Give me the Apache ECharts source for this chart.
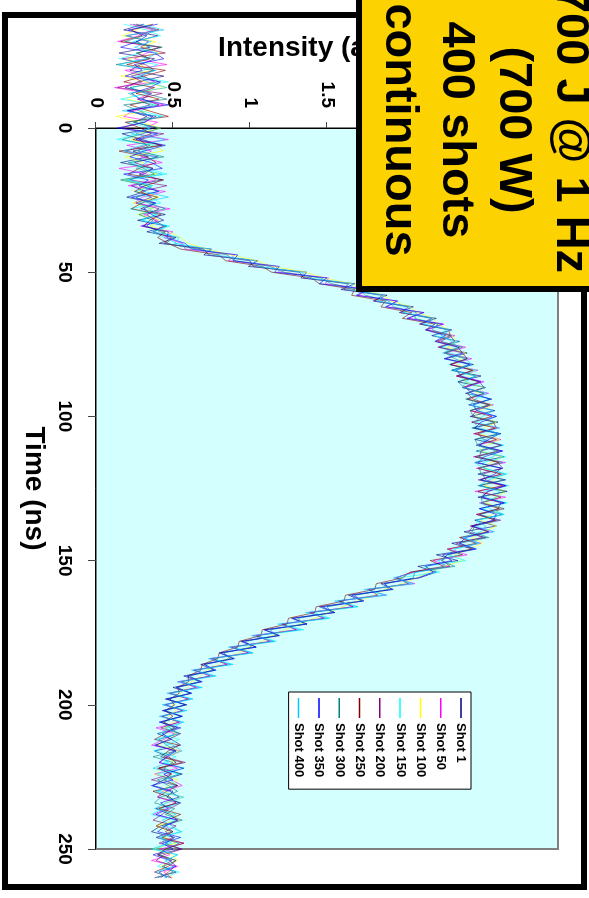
<!DOCTYPE html>
<html><head><meta charset="utf-8">
<script src="https://cdn.jsdelivr.net/npm/echarts@6/dist/echarts.min.js"></script>
<style>
html,body{margin:0;padding:0;background:#fff;}
#wrap{position:relative;width:589px;height:898px;overflow:hidden;background:#fff;}
#chart{position:absolute;left:0;top:0;width:898px;height:589px;transform-origin:0 0;transform:translate(589px,0) rotate(90deg);}
</style></head><body>
<div id="wrap"><div id="chart"></div></div>
<script>
// Time samples (ns)
const times = [-36,-34,-32,-30,-28,-26,-24,-22,-20,-18,-16,-14,-12,-10,-8,-6,-4,-2,0,2,4,6,8,10,12,14,16,18,20,22,24,26,28,30,32,34,36,38,40,42,44,46,48,50,52,54,56,58,60,62,64,66,68,70,72,74,76,78,80,82,84,86,88,90,92,94,96,98,100,102,104,106,108,110,112,114,116,118,120,122,124,126,128,130,132,134,136,138,140,142,144,146,148,150,152,154,156,158,160,162,164,166,168,170,172,174,176,178,180,182,184,186,188,190,192,194,196,198,200,202,204,206,208,210,212,214,216,218,220,222,224,226,228,230,232,234,236,238,240,242,244,246,248,250,252,254,256,258,260];

const seriesNames = ['Shot 1','Shot 50','Shot 100','Shot 150','Shot 200','Shot 250','Shot 300','Shot 350','Shot 400'];
const seriesColors = ['#000080','#FF00FF','#FFFF00','#00FFFF','#800080','#800000','#008080','#0000FF','#00CCFF'];

const timeTickLabels = [0,50,100,150,200,250];
const intensityTickLabels = [0,0.5,1,1.5,2,2.5,3];
const boxLines = ['700 J @ 1 Hz','(700 W)','400 shots','continuous'];

const shot1 = [0.31,0.18,0.40,0.26,0.35,0.15,0.38,0.29,0.22,0.44,0.27,0.19,0.36,0.30,0.41,0.21,0.33,0.25,0.39,0.17,0.30,0.42,0.24,0.34,0.16,0.37,0.28,0.43,0.23,0.32,0.20,0.38,0.29,0.45,0.27,0.46,0.33,0.52,
0.41,0.75,0.70,1.05,0.99,1.37,1.33,1.68,1.59,1.89,1.80,2.06,1.97,2.21,2.10,2.31,
2.18,2.36,2.23,2.41,2.27,2.45,2.31,2.50,2.35,2.53,2.40,2.57,2.42,2.59,2.43,2.61,2.45,2.63,2.46,2.64,2.47,2.65,2.46,2.64,2.48,2.66,2.49,2.67,2.48,2.66,2.49,2.64,2.46,2.60,2.39,2.53,2.31,2.45,2.21,2.35,2.09,2.21,
2.10,1.85,1.93,1.64,1.73,1.45,1.55,1.27,1.37,1.09,1.19,0.94,1.04,0.80,0.89,0.68,0.77,0.57,0.68,0.50,0.62,0.45,0.59,0.43,0.56,0.42,
0.53,0.40,0.49,0.55,0.38,0.47,0.52,0.41,0.56,0.44,0.37,0.50,0.46,0.54,0.39,0.48,0.53,0.42,0.36,0.51,0.45,0.55,0.40,0.49,0.43,0.52,0.38];

const shot50 = [0.22,0.37,0.28,0.14,0.41,0.33,0.25,0.46,0.19,0.31,0.38,0.12,0.35,0.27,0.44,0.24,0.18,0.40,0.32,0.26,0.47,0.20,0.36,0.29,0.43,0.15,0.33,0.39,0.21,0.45,0.30,0.25,0.48,0.31,0.40,0.29,0.50,0.44,
0.56,0.58,0.90,0.86,1.17,1.19,1.51,1.49,1.78,1.70,1.95,1.89,2.12,2.03,2.26,2.15,
2.33,2.22,2.40,2.27,2.44,2.30,2.48,2.34,2.52,2.38,2.55,2.41,2.58,2.43,2.60,2.44,2.62,2.45,2.63,2.47,2.64,2.45,2.66,2.47,2.65,2.48,2.67,2.46,2.66,2.49,2.65,2.47,2.63,2.44,2.58,2.37,2.50,2.29,2.41,2.19,2.29,2.06,
1.94,2.07,1.76,1.88,1.57,1.67,1.38,1.49,1.20,1.31,1.02,1.15,0.87,1.01,0.74,0.87,0.63,0.76,0.53,0.67,0.47,0.61,0.44,0.57,0.42,0.55,
0.39,0.51,0.44,0.36,0.55,0.47,0.41,0.53,0.38,0.49,0.56,0.43,0.40,0.52,0.46,0.37,0.54,0.45,0.50,0.39,0.57,0.42,0.48,0.36,0.53,0.44,0.49];

const shot100 = [0.35,0.26,0.17,0.39,0.30,0.43,0.21,0.28,0.37,0.16,0.32,0.45,0.25,0.20,0.38,0.34,0.13,0.29,0.42,0.27,0.23,0.36,0.44,0.19,0.31,0.26,0.40,0.17,0.34,0.28,0.41,0.24,0.37,0.27,0.43,0.35,0.47,0.55,
0.60,0.72,0.88,1.04,1.15,1.36,1.48,1.66,1.74,1.86,1.92,2.04,2.09,2.19,2.22,2.29,
2.31,2.34,2.28,2.40,2.37,2.34,2.46,2.42,2.39,2.52,2.47,2.44,2.57,2.50,2.46,2.60,2.52,2.48,2.62,2.54,2.49,2.64,2.56,2.51,2.65,2.58,2.52,2.66,2.59,2.53,2.64,2.57,2.50,2.60,2.52,2.44,2.51,2.42,2.33,2.38,2.26,2.16,
2.08,1.99,1.87,1.81,1.70,1.60,1.51,1.42,1.32,1.23,1.15,1.08,0.99,0.93,0.85,0.80,0.72,0.68,0.62,0.59,0.55,0.54,0.50,0.52,0.47,0.51,
0.44,0.52,0.48,0.40,0.55,0.46,0.51,0.42,0.38,0.53,0.47,0.43,0.56,0.45,0.41,0.50,0.54,0.39,0.48,0.44,0.52,0.37,0.49,0.53,0.42,0.46,0.50];

const shot150 = [0.18,0.33,0.42,0.24,0.36,0.28,0.15,0.40,0.31,0.25,0.47,0.22,0.34,0.16,0.39,0.29,0.44,0.20,0.35,0.27,0.14,0.38,0.30,0.41,0.23,0.33,0.46,0.19,0.37,0.26,0.35,0.42,0.22,0.39,0.30,0.48,0.36,0.45,
0.52,0.68,0.74,0.99,1.03,1.33,1.36,1.63,1.62,1.84,1.82,2.01,1.99,2.17,2.12,2.28,
2.20,2.35,2.25,2.30,2.42,2.29,2.47,2.36,2.40,2.53,2.41,2.56,2.45,2.48,2.60,2.46,2.62,2.49,2.50,2.65,2.48,2.66,2.51,2.52,2.67,2.49,2.68,2.52,2.51,2.67,2.50,2.64,2.48,2.46,2.59,2.38,2.49,2.32,2.28,2.40,2.13,2.23,
1.96,2.04,1.78,1.86,1.58,1.70,1.41,1.52,1.22,1.35,1.05,1.17,0.90,1.02,0.76,0.88,0.65,0.77,0.56,0.68,0.49,0.62,0.45,0.58,0.43,0.56,
0.50,0.41,0.54,0.46,0.38,0.52,0.44,0.57,0.40,0.48,0.53,0.39,0.47,0.55,0.43,0.36,0.51,0.45,0.56,0.42,0.49,0.38,0.53,0.46,0.40,0.54,0.44];

const shot200 = [0.26,0.41,0.20,0.34,0.29,0.45,0.17,0.32,0.38,0.23,0.30,0.14,0.43,0.27,0.35,0.21,0.39,0.31,0.16,0.44,0.28,0.33,0.19,0.40,0.25,0.37,0.31,0.22,0.46,0.29,0.36,0.26,0.41,0.33,0.38,0.44,0.37,0.49,
0.44,0.70,0.73,1.00,1.02,1.32,1.35,1.64,1.61,1.86,1.81,2.03,1.98,2.18,2.11,2.29,
2.30,2.33,2.22,2.38,2.41,2.30,2.44,2.35,2.49,2.52,2.41,2.45,2.56,2.47,2.44,2.58,2.60,2.48,2.52,2.63,2.50,2.49,2.61,2.64,2.51,2.53,2.66,2.55,2.50,2.63,2.61,2.49,2.59,2.45,2.42,2.51,2.34,2.44,2.28,2.25,2.30,2.05,
1.95,2.03,1.77,1.83,1.58,1.67,1.39,1.48,1.21,1.30,1.04,1.13,0.88,0.99,0.75,0.85,0.64,0.74,0.55,0.65,0.48,0.60,0.45,0.56,0.43,0.54,
0.42,0.55,0.47,0.39,0.51,0.44,0.58,0.41,0.49,0.36,0.53,0.46,0.40,0.55,0.48,0.43,0.37,0.52,0.45,0.50,0.41,0.56,0.44,0.39,0.51,0.47,0.42];

const shot250 = [0.37,0.23,0.30,0.16,0.42,0.27,0.35,0.20,0.45,0.31,0.18,0.38,0.26,0.41,0.22,0.34,0.47,0.19,0.29,0.36,0.24,0.43,0.15,0.33,0.39,0.28,0.21,0.44,0.32,0.25,0.40,0.30,0.23,0.42,0.35,0.31,0.45,0.40,
0.47,0.55,0.80,0.84,1.08,1.14,1.40,1.45,1.68,1.66,1.88,1.85,2.05,1.99,2.20,2.14,
2.30,2.21,2.36,2.26,2.41,2.30,2.45,2.34,2.49,2.38,2.52,2.41,2.55,2.43,2.57,2.44,2.59,2.46,2.60,2.47,2.61,2.46,2.62,2.48,2.63,2.49,2.64,2.48,2.63,2.50,2.62,2.47,2.60,2.43,2.55,2.36,2.47,2.28,2.38,2.17,2.26,2.04,
1.99,1.82,1.81,1.62,1.61,1.43,1.42,1.25,1.24,1.08,1.07,0.93,0.92,0.80,0.79,0.69,0.68,0.60,0.60,0.53,0.54,0.48,0.51,0.45,0.50,0.44,
0.51,0.45,0.38,0.54,0.47,0.42,0.56,0.40,0.49,0.44,0.53,0.37,0.48,0.52,0.41,0.55,0.46,0.39,0.50,0.43,0.57,0.45,0.40,0.52,0.47,0.38,0.49];

const shot300 = [0.24,0.39,0.31,0.19,0.43,0.26,0.34,0.13,0.37,0.29,0.41,0.22,0.32,0.46,0.18,0.28,0.36,0.24,0.42,0.30,0.17,0.35,0.27,0.44,0.21,0.31,0.38,0.16,0.33,0.40,0.26,0.34,0.45,0.28,0.37,0.33,0.42,0.51,
0.45,0.66,0.85,0.90,1.13,1.22,1.46,1.53,1.71,1.75,1.90,1.93,2.08,2.07,2.22,2.18,
2.31,2.24,2.38,2.27,2.33,2.42,2.31,2.47,2.35,2.39,2.52,2.40,2.56,2.43,2.45,2.59,2.44,2.61,2.46,2.48,2.63,2.47,2.64,2.49,2.50,2.65,2.48,2.66,2.50,2.51,2.65,2.49,2.62,2.46,2.44,2.55,2.36,2.46,2.28,2.24,2.33,2.07,
2.06,1.88,1.90,1.68,1.72,1.50,1.53,1.31,1.35,1.13,1.17,0.97,1.01,0.83,0.87,0.71,0.76,0.61,0.67,0.53,0.61,0.47,0.58,0.45,0.55,0.43,
0.48,0.54,0.41,0.46,0.52,0.37,0.50,0.44,0.55,0.40,0.47,0.53,0.42,0.38,0.51,0.45,0.56,0.43,0.49,0.39,0.54,0.46,0.41,0.52,0.44,0.50,0.40];

const shot350 = [0.40,0.21,0.33,0.27,0.16,0.38,0.44,0.25,0.30,0.19,0.42,0.35,0.23,0.29,0.47,0.20,0.37,0.32,0.14,0.40,0.26,0.45,0.31,0.22,0.36,0.43,0.18,0.34,0.28,0.41,0.23,0.39,0.31,0.36,0.44,0.30,0.47,0.46,
0.58,0.62,0.92,0.89,1.19,1.16,1.50,1.45,1.77,1.69,1.96,1.88,2.13,2.02,2.25,2.14,
2.27,2.20,2.35,2.38,2.26,2.43,2.34,2.37,2.50,2.40,2.44,2.56,2.45,2.47,2.60,2.50,2.46,2.62,2.55,2.49,2.64,2.52,2.48,2.63,2.59,2.50,2.66,2.54,2.51,2.65,2.49,2.60,2.58,2.44,2.55,2.40,2.36,2.47,2.25,2.31,2.14,2.19,
2.09,1.87,1.92,1.66,1.74,1.47,1.55,1.28,1.37,1.10,1.19,0.95,1.04,0.81,0.90,0.70,0.78,0.59,0.69,0.52,0.62,0.46,0.58,0.44,0.56,0.41,
0.55,0.43,0.49,0.38,0.52,0.46,0.41,0.57,0.44,0.50,0.36,0.48,0.54,0.42,0.47,0.39,0.53,0.45,0.40,0.55,0.43,0.50,0.37,0.48,0.52,0.41,0.46];

const shot400 = [0.29,0.44,0.19,0.36,0.25,0.40,0.32,0.15,0.39,0.27,0.34,0.46,0.21,0.30,0.37,0.17,0.42,0.28,0.35,0.23,0.45,0.30,0.18,0.38,0.33,0.26,0.43,0.20,0.36,0.31,0.47,0.27,0.35,0.40,0.29,0.46,0.38,0.54,
0.51,0.74,0.77,1.03,1.05,1.34,1.38,1.67,1.64,1.87,1.83,2.04,2.00,2.19,2.13,2.30,
2.24,2.31,2.35,2.25,2.40,2.44,2.32,2.46,2.40,2.38,2.54,2.46,2.43,2.58,2.51,2.45,2.49,2.62,2.53,2.47,2.60,2.58,2.46,2.52,2.66,2.55,2.49,2.62,2.60,2.50,2.56,2.65,2.47,2.53,2.50,2.38,2.48,2.33,2.36,2.22,2.27,2.09,
1.93,2.06,1.74,1.89,1.55,1.70,1.36,1.51,1.18,1.33,1.01,1.16,0.86,1.02,0.73,0.89,0.62,0.78,0.53,0.69,0.46,0.63,0.43,0.59,0.41,0.57,
0.45,0.53,0.39,0.50,0.56,0.42,0.47,0.37,0.54,0.44,0.51,0.40,0.57,0.46,0.38,0.52,0.43,0.49,0.55,0.41,0.47,0.36,0.53,0.45,0.50,0.39,0.48];

const seriesValues = [shot1, shot50, shot100, shot150, shot200, shot250, shot300, shot350, shot400];

const FONT = '"Liberation Sans", Arial, Helvetica, sans-serif';

// Layout of the visible plot (chart is drawn un-rotated, then the page turns it 90deg clockwise)
const W = 898;
const G = {left: 128, right: 49, top: 31, bottom: 96};
const tMin = timeTickLabels[0], tMax = timeTickLabels[timeTickLabels.length - 1];
const pxPerNs = (W - G.left - G.right) / (tMax - tMin);
const dataT0 = times[0], dataT1 = times[times.length - 1];
// second, invisible grid with the same scale that spans the full recorded window
const G2 = {
  left: G.left - (tMin - dataT0) * pxPerNs,
  right: G.right - (dataT1 - tMax) * pxPerNs,
  top: G.top, bottom: G.bottom
};

const chart = echarts.init(document.getElementById('chart'), null, {renderer: 'canvas'});

const series = seriesNames.map((name, k) => ({
  name: name,
  type: 'line',
  xAxisIndex: 1,
  yAxisIndex: 1,
  data: times.map((t, i) => [t, seriesValues[k][i]]),
  symbol: 'none',
  showSymbol: false,
  clip: false,
  silent: true,
  z: 2,
  lineStyle: {width: 0.75, color: seriesColors[k], opacity: 0.8},
  itemStyle: {color: seriesColors[k]},
  emphasis: {disabled: true}
}));

const legendIcon = 'path://M0,0L0.01,0M0,6.25H20V7.75H0ZM19.99,14L20,14';

chart.setOption({
  animation: false,
  backgroundColor: '#ffffff',
  grid: [
    {left: G.left, right: G.right, top: G.top, bottom: G.bottom,
     show: true, backgroundColor: '#D4FFFF', borderColor: '#808080', borderWidth: 2,
     containLabel: false, outerBoundsMode: 'none'},
    {left: G2.left, right: G2.right, top: G2.top, bottom: G2.bottom,
     show: false, containLabel: false, outerBoundsMode: 'none'}
  ],
  xAxis: [{
    gridIndex: 0, type: 'value', position: 'bottom',
    min: tMin, max: tMax,
    interval: timeTickLabels[1] - timeTickLabels[0],
    name: 'Time (ns)', nameLocation: 'middle', nameGap: 48,
    nameTextStyle: {fontFamily: FONT, fontWeight: 'bold', fontSize: 28, color: '#000'},
    axisLine: {show: true, onZero: false, lineStyle: {color: '#000', width: 1}},
    axisTick: {show: true, inside: false, length: 8, lineStyle: {color: '#444', width: 1}},
    axisLabel: {show: true, margin: 22, fontFamily: FONT, fontWeight: 'bold', fontSize: 19, color: '#000'},
    splitLine: {show: false}
  }, {
    gridIndex: 1, type: 'value', show: false,
    min: dataT0, max: dataT1,
    axisLine: {show: false}, axisTick: {show: false}, axisLabel: {show: false}, splitLine: {show: false}
  }],
  yAxis: [{
    gridIndex: 0, type: 'value', position: 'left',
    min: intensityTickLabels[0], max: intensityTickLabels[intensityTickLabels.length - 1],
    interval: intensityTickLabels[1] - intensityTickLabels[0],
    name: 'Intensity (a.u.)', nameLocation: 'middle', nameGap: 66, nameRotate: 90,
    nameTextStyle: {fontFamily: FONT, fontWeight: 'bold', fontSize: 28, color: '#000', padding: [0, 28, 0, 0]},
    axisLine: {show: true, onZero: false, lineStyle: {color: '#000', width: 1}},
    axisTick: {show: true, inside: false, length: 6, lineStyle: {color: '#444', width: 1}},
    axisLabel: {show: true, margin: 20, fontFamily: FONT, fontWeight: 'bold', fontSize: 19, color: '#000'},
    splitLine: {show: false}
  }, {
    gridIndex: 1, type: 'value', show: false,
    min: intensityTickLabels[0], max: intensityTickLabels[intensityTickLabels.length - 1],
    axisLine: {show: false}, axisTick: {show: false}, axisLabel: {show: false}, splitLine: {show: false}
  }],
  legend: {
    data: seriesNames,
    orient: 'vertical',
    left: 692, top: 118,
    icon: legendIcon,
    itemWidth: 20, itemHeight: 14, itemGap: 6.3,
    padding: [3, 12, 3, 6],
    backgroundColor: '#ffffff', borderColor: '#000', borderWidth: 1,
    selectedMode: false,
    textStyle: {fontFamily: FONT, fontWeight: 'bold', fontSize: 13, color: '#000'}
  },
  graphic: [
    {type: 'rect', z: 100, silent: true,
     shape: {x: 15, y: 5, width: 872, height: 579},
     style: {fill: 'none', stroke: '#000', lineWidth: 6}},
    {type: 'rect', z: 110, silent: true,
     shape: {x: -20, y: -20, width: 309, height: 250},
     style: {fill: '#FCD300', stroke: '#000', lineWidth: 6}},
    {type: 'text', z: 120, silent: true, x: 130, y: 104.5,
     style: {text: boxLines.join('\n'), fontFamily: FONT, fontWeight: 'bold', fontSize: 47,
             lineHeight: 57, fill: '#000', align: 'center', verticalAlign: 'middle',
             textAlign: 'center', textVerticalAlign: 'middle'}}
  ],
  series: series
});
</script>
</body></html>
